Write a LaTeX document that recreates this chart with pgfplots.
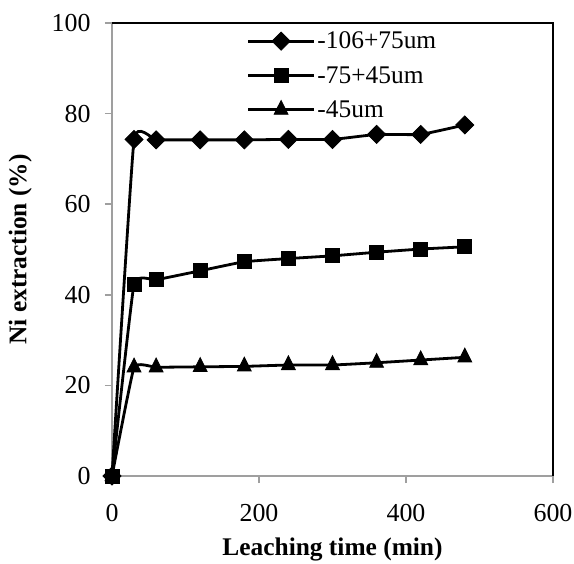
\documentclass[border=0pt]{standalone}
\usepackage{fontspec}
\setmainfont{Liberation Serif}
\usepackage{pgfplots}
\pgfplotsset{compat=1.18}

\begin{document}
\begin{tikzpicture}
% page frame matching the reference crop
\path[use as bounding box] (-112bp,-88bp) rectangle (462bp,476bp);
\begin{axis}[
    at={(0,0)}, anchor=south west,
    scale only axis,
    width=441bp, height=453bp,
    xmin=0, xmax=600, ymin=0, ymax=100,
    xtick={0,200,400,600},
    ytick={0,20,40,60,80,100},
    tick align=outside,
    major tick length=7bp,
    tick style={gray!75, line width=1.6bp},
    axis x line*=bottom, axis y line*=left,
    x axis line style={gray!75, line width=2bp, -},
    y axis line style={gray!75, line width=2bp, -},
    /pgf/number format/assume math mode=true,
    tick label style={font=\fontsize{26}{28}\selectfont},
    xticklabel style={yshift=-18bp},
    yticklabel style={xshift=-11bp},
    xlabel={\textbf{Leaching time (min)}},
    ylabel={\textbf{Ni extraction (\%)}},
    label style={font=\fontsize{25.5}{28}\selectfont},
    xlabel style={yshift=-9bp},
    ylabel style={yshift=13bp},
    legend style={draw=none, fill=none, at={(0.305,0.985)}, anchor=north west,
      font=\fontsize{25.5}{28}\selectfont, row sep=12bp, inner sep=0pt,
      /tikz/every even column/.append style={column sep=1bp}},
    legend cell align=left,
    legend image code/.code={
      \draw[#1] (0bp,0bp) -- (66bp,0bp);
      \draw[#1, only marks] plot coordinates {(33bp,0bp)};
    },
    every axis plot/.append style={black, line width=2.8bp, smooth, tension=0.2},
    clip=false,
]
% top and right frame
\draw[black, line width=1.3bp] (axis cs:0,100) -- (axis cs:600,100) -- (axis cs:600,0);
\addplot[mark=square*, mark size=6.4bp, mark options={solid, rotate=45, line width=0.8bp}] coordinates {
 (0,0) (30,74.3) (60,74.2) (120,74.2) (180,74.2) (240,74.3) (300,74.3) (360,75.4) (420,75.4) (480,77.5)};
\addlegendentry{-106+75um}
\addplot[mark=square*, mark size=7bp, mark options={solid, line width=0.8bp}] coordinates {
 (0,0) (30,42.4) (60,43.3) (120,45.3) (180,47.3) (240,48.0) (300,48.6) (360,49.4) (420,50.1) (480,50.6)};
\addlegendentry{-75+45um}
\addplot[mark=triangle*, mark size=8bp, mark options={solid, yscale=1.15, line width=0.8bp}] coordinates {
 (0,0) (30,24.0) (60,24.0) (120,24.1) (180,24.2) (240,24.5) (300,24.5) (360,25.0) (420,25.6) (480,26.2)};
\addlegendentry{-45um}
\end{axis}
\end{tikzpicture}
\end{document}
